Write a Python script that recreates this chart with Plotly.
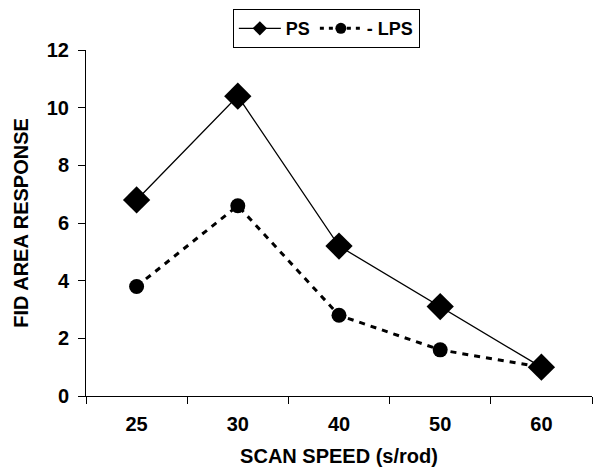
import plotly.graph_objects as go

speeds = ["25", "30", "40", "50", "60"]
ps = [6.8, 10.4, 5.2, 3.1, 1.0]
lps = [3.8, 6.6, 2.8, 1.6, 1.0]
y_ticks = [0, 2, 4, 6, 8, 10, 12]

font = "Liberation Sans"
bfont = lambda size: dict(family=font, size=size, weight="bold", color="black")

fig = go.Figure()
fig.add_trace(go.Scatter(
    x=speeds, y=lps, name="- LPS", mode="lines+markers", showlegend=False,
    line=dict(color="black", width=3, dash="6px,6px"),
    marker=dict(symbol="circle", size=15, color="black"),
))
fig.add_trace(go.Scatter(
    x=speeds, y=ps, name="PS", mode="lines+markers", showlegend=False,
    line=dict(color="black", width=1.3),
    marker=dict(symbol="diamond", size=21, color="black"),
))
# legend-only entries (smaller symbols, as in the reference legend)
fig.add_trace(go.Scatter(
    x=[None], y=[None], name="PS", mode="lines+markers",
    line=dict(color="black", width=1.3),
    marker=dict(symbol="diamond", size=11, color="black"),
))
fig.add_trace(go.Scatter(
    x=[None], y=[None], name="- LPS", mode="lines+markers",
    line=dict(color="black", width=3, dash="4px,5px"),
    marker=dict(symbol="circle", size=11, color="black"),
))

fig.update_layout(
    width=599, height=470,
    margin=dict(l=86, r=7, t=50, b=74),
    paper_bgcolor="white", plot_bgcolor="white",
    font=dict(family=font, color="black", size=16),
    legend=dict(
        orientation="h", x=0.475, xanchor="center", y=1.118, yanchor="top",
        bordercolor="black", borderwidth=1, itemwidth=42,
        font=bfont(18),
        tracegroupgap=0,
    ),
    xaxis=dict(
        type="category", range=[-0.5, 4.5], tickson="boundaries",
        ticks="outside", ticklen=7, tickcolor="black", ticklabelstandoff=10,
        showline=True, linecolor="black", linewidth=1, showgrid=False,
        tickfont=bfont(20),
        title=dict(text="SCAN SPEED (s/rod)", standoff=14, font=bfont(20)),
    ),
    yaxis=dict(
        range=[0, 12], tickvals=y_ticks,
        ticks="outside", ticklen=7, tickcolor="black", ticklabelstandoff=5,
        showline=True, linecolor="black", linewidth=1, showgrid=False, zeroline=False,
        tickfont=bfont(20),
        title=dict(text="FID AREA RESPONSE", standoff=12, font=bfont(20)),
    ),
)

fig.write_html("out.html")
